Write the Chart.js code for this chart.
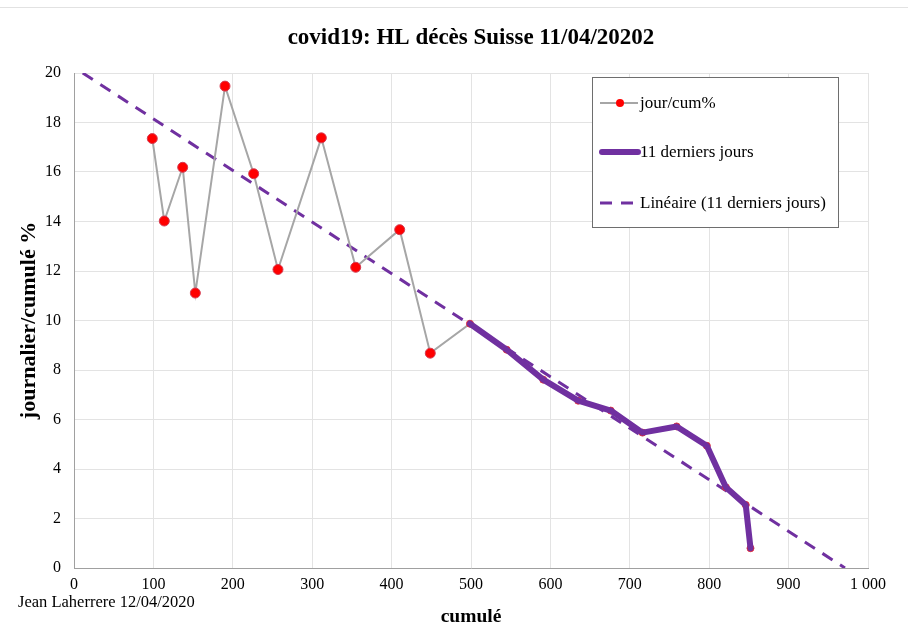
<!DOCTYPE html>
<html>
<head>
<meta charset="utf-8">
<script src="https://cdn.jsdelivr.net/npm/chart.js@4.4.1/dist/chart.umd.min.js"></script>
<style>
html,body{margin:0;padding:0;background:#fff;}
#wrap{width:908px;height:629px;position:relative;}
</style>
</head>
<body>
<div id="wrap"><canvas id="c" width="908" height="629"></canvas></div>
<script>
// ---- data ----
const cumule = [98.6,113.7,136.9,152.8,190.2,226.3,256.9,311.5,354.8,410.2,448.7,498.7,545,591,635,676,716,759,797,821,846,852];
const jourCum = [17.35,14.02,16.19,11.11,19.47,15.93,12.06,17.38,12.15,13.67,8.68,9.87,8.82,7.61,6.76,6.36,5.47,5.72,4.94,3.26,2.55,0.80];
const last11X = cumule.slice(11);
const last11Y = jourCum.slice(11);
const trendX = [11, 971];
const trendY = [20, 0];
const xTickValues = [0,100,200,300,400,500,600,700,800,900,1000];
const xTickLabels = ["0","100","200","300","400","500","600","700","800","900","1 000"];
const yTickLabels = ["0","2","4","6","8","10","12","14","16","18","20"];
const seriesNames = ["jour/cum%", "11 derniers jours", "Linéaire (11 derniers jours)"];

const SERIF = '"Liberation Serif", "Times New Roman", serif';
const PURPLE = '#7030a0';

const pts = (xs, ys) => xs.map((x, i) => ({x: x, y: ys[i]}));

const legendPlugin = {
  id: 'boxLegend',
  afterDraw(chart) {
    const ctx = chart.ctx;
    const ds = chart.data.datasets;
    const bx = 592, by = 77, bw = 246, bh = 150;
    ctx.save();
    ctx.fillStyle = '#fff';
    ctx.fillRect(bx, by, bw, bh);
    ctx.strokeStyle = '#6e6e6e';
    ctx.lineWidth = 1;
    ctx.strokeRect(bx + 0.5, by + 0.5, bw, bh);
    const rows = [103, 152, 203];
    const map = seriesNames.map(n => ds.findIndex(d => d.label === n));
    ctx.font = '17px ' + SERIF;
    ctx.textBaseline = 'middle';
    ctx.textAlign = 'left';
    map.forEach((di, r) => {
      const d = ds[di];
      const y = rows[r];
      ctx.save();
      ctx.strokeStyle = d.borderColor;
      ctx.lineWidth = d.borderWidth;
      ctx.lineCap = r === 1 ? 'round' : 'butt';
      if (d.borderDash) ctx.setLineDash([12, 9]);
      ctx.beginPath();
      ctx.moveTo(r === 1 ? 602 : 600, y);
      ctx.lineTo(638, y);
      ctx.stroke();
      ctx.restore();
      if (r === 0) {
        ctx.beginPath();
        ctx.fillStyle = '#ff0000';
        ctx.arc(620, y, 4, 0, Math.PI * 2);
        ctx.fill();
      }
      ctx.fillStyle = '#000';
      ctx.fillText(d.label, 640, y + 1);
    });
    // footer
    ctx.font = '16.5px ' + SERIF;
    ctx.fillStyle = '#000';
    ctx.textBaseline = 'middle';
    ctx.fillText('Jean Laherrere 12/04/2020', 18, 603);
    // top border line
    ctx.strokeStyle = '#e2e2e2';
    ctx.lineWidth = 1;
    ctx.beginPath();
    ctx.moveTo(0, 7.5);
    ctx.lineTo(908, 7.5);
    ctx.stroke();
    ctx.restore();
  }
};

new Chart(document.getElementById('c'), {
  type: 'scatter',
  data: {
    datasets: [
      {
        label: seriesNames[2],
        data: pts(trendX, trendY),
        showLine: true,
        borderColor: PURPLE,
        borderWidth: 3,
        borderDash: [12, 9],
        pointRadius: 0,
        fill: false,
        order: 3
      },
      {
        label: seriesNames[0],
        data: pts(cumule, jourCum),
        showLine: true,
        borderColor: '#a6a6a6',
        borderWidth: 2,
        pointRadius: cumule.map((v, i) => i < 11 ? 5 : 3.5),
        pointBackgroundColor: '#ff0000',
        pointBorderColor: '#d43a50',
        pointBorderWidth: 1,
        fill: false,
        order: 2
      },
      {
        label: seriesNames[1],
        data: pts(last11X, last11Y),
        showLine: true,
        borderColor: PURPLE,
        borderWidth: 6,
        borderJoinStyle: 'round',
        borderCapStyle: 'round',
        pointRadius: 0,
        fill: false,
        order: 1
      }
    ]
  },
  options: {
    responsive: false,
    animation: false,
    devicePixelRatio: 1,
    layout: {padding: {left: 0, right: 40, top: 0, bottom: 0}},
    plugins: {
      legend: {display: false},
      tooltip: {enabled: false},
      title: {
        display: true,
        fullSize: false,
        text: 'covid19: HL décès Suisse 11/04/20202',
        color: '#000',
        font: {family: SERIF, size: 23, weight: 'bold'},
        padding: {top: 24, bottom: 21.4}
      }
    },
    scales: {
      x: {
        type: 'linear',
        min: 0, max: 1000,
        afterFit(s) { s.height = 61; },
        afterBuildTicks(s) { s.ticks = xTickValues.map(v => ({value: v})); },
        ticks: {
          color: '#000',
          font: {family: SERIF, size: 16},
          padding: 7,
          maxRotation: 0,
          callback: (v) => xTickLabels[xTickValues.indexOf(v)]
        },
        grid: {color: '#e3e3e3', lineWidth: 1, drawTicks: false},
        border: {color: '#a0a0a0', width: 1},
        title: {
          display: true,
          text: 'cumulé',
          color: '#000',
          font: {family: SERIF, size: 19.5, weight: 'bold'},
          padding: {top: 0, bottom: 0}
        }
      },
      y: {
        type: 'linear',
        min: 0, max: 20,
        afterFit(s) { s.width = 74; },
        ticks: {
          stepSize: 2,
          color: '#000',
          font: {family: SERIF, size: 16},
          padding: 13,
          callback: (v) => yTickLabels[Math.round(v / 2)]
        },
        grid: {color: '#e3e3e3', lineWidth: 1, drawTicks: false},
        border: {color: '#a0a0a0', width: 1},
        title: {
          display: true,
          text: 'journalier/cumulé %',
          color: '#000',
          font: {family: SERIF, size: 22, weight: 'bold'},
          padding: {top: 16, bottom: 0}
        }
      }
    }
  },
  plugins: [legendPlugin]
});
</script>
</body>
</html>
